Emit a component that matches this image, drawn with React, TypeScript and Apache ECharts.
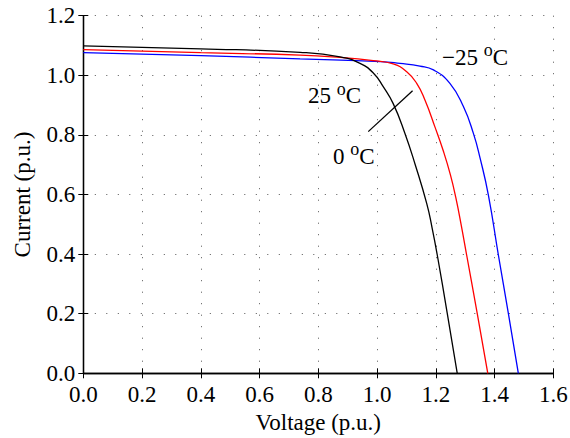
import React, { useEffect, useRef } from "react";
import * as echarts from "echarts";

const V_25C = [0, 0.4, 0.738, 0.874, 0.942, 0.988, 1.021, 1.055, 1.095, 1.13, 1.169, 1.187, 1.205, 1.239, 1.273];
const I_25C = [1.099, 1.089, 1.077, 1.062, 1.04, 1.007, 0.962, 0.905, 0.805, 0.7, 0.57, 0.49, 0.397, 0.201, 0];

const V_0C = [0, 0.4, 0.738, 0.874, 0.987, 1.055, 1.101, 1.135, 1.163, 1.197, 1.226, 1.25, 1.268, 1.287, 1.305, 1.341, 1.377];
const I_0C = [1.086, 1.076, 1.068, 1.06, 1.049, 1.038, 1.012, 0.973, 0.917, 0.827, 0.745, 0.665, 0.59, 0.495, 0.397, 0.201, 0];

const V_M25C = [0, 0.4, 0.738, 1.012, 1.078, 1.146, 1.192, 1.248, 1.294, 1.328, 1.351, 1.379, 1.413, 1.447, 1.481];
const I_M25C = [1.076, 1.066, 1.055, 1.046, 1.04, 1.031, 1.018, 0.973, 0.895, 0.805, 0.721, 0.598, 0.397, 0.201, 0];

const X_TICKS = { min: 0, max: 1.6, interval: 0.2 };
const Y_TICKS = { min: 0, max: 1.2, interval: 0.2 };

const FONT = "Liberation Serif";

const zip = (xs: number[], ys: number[]) => xs.map((x, i) => [x, ys[i]]);

export default function App() {
  const ref = useRef<HTMLDivElement>(null);
  useEffect(() => {
    if (!ref.current) return;
    const chart = echarts.init(ref.current, null, { renderer: "svg" });
    const dotted = { type: [1, 10.5] as any, color: "#555", width: 1 };
    const axisCommon = {
      axisLine: { show: true, lineStyle: { color: "#000", width: 1.3 } },
      axisTick: { show: true, inside: true, length: 5, lineStyle: { color: "#000", width: 1 } },
    };
    const labelStyle = { color: "#000", fontFamily: FONT, fontSize: 23 };
    chart.setOption({
      animation: false,
      backgroundColor: "#fff",
      grid: {
        left: 83.3,
        top: 15.7,
        right: 16.7,
        bottom: 64.7,
        containLabel: false,
        outerBoundsMode: "none",
      },
      xAxis: [
        {
          type: "value",
          ...X_TICKS,
          position: "bottom",
          ...axisCommon,
          axisLabel: { ...labelStyle, margin: 10, formatter: (v: number) => v.toFixed(1) },
          splitLine: { show: true, lineStyle: dotted },
          name: "Voltage (p.u.)",
          nameLocation: "middle",
          nameGap: 32,
          nameTextStyle: { ...labelStyle },
        },
        {
          type: "value",
          ...X_TICKS,
          position: "top",
          ...axisCommon,
          axisLabel: { show: false },
          splitLine: { show: false },
        },
      ],
      yAxis: [
        {
          type: "value",
          ...Y_TICKS,
          position: "left",
          ...axisCommon,
          axisLabel: { ...labelStyle, margin: 8, formatter: (v: number) => v.toFixed(1) },
          splitLine: { show: true, lineStyle: dotted },
          name: "Current (p.u.)",
          nameLocation: "middle",
          nameGap: 49,
          nameTextStyle: { ...labelStyle },
        },
        {
          type: "value",
          ...Y_TICKS,
          position: "right",
          ...axisCommon,
          axisLabel: { show: false },
          splitLine: { show: false },
        },
      ],
      series: [
        {
          name: "-25 C",
          type: "line",
          data: zip(V_M25C, I_M25C),
          showSymbol: false,
          smooth: 0.5,
          lineStyle: { color: "#0000ff", width: 1.3 },
        },
        {
          name: "0 C",
          type: "line",
          data: zip(V_0C, I_0C),
          showSymbol: false,
          smooth: 0.5,
          lineStyle: { color: "#ff0000", width: 1.3 },
        },
        {
          name: "25 C",
          type: "line",
          data: zip(V_25C, I_25C),
          showSymbol: false,
          smooth: 0.5,
          lineStyle: { color: "#000000", width: 1.3 },
        },
      ],
    });

    const px = (p: number[]) => chart.convertToPixel({ gridIndex: 0 }, p) as number[];
    const rich = {
      n: { fontFamily: FONT, fontSize: 23, lineHeight: 32, color: "#000" },
      s: { fontFamily: FONT, fontSize: 18, lineHeight: 16, verticalAlign: "top", color: "#000" },
    };
    const label = (p: number[], t: string) => {
      const [x, y] = px(p);
      return {
        type: "text",
        x,
        y,
        style: {
          text: `{n|${t} }{s|o}{n|C}`,
          rich,
          align: "left",
          verticalAlign: "middle",
        },
      };
    };
    const a = px([0.97, 0.811]);
    const b = px([1.121, 0.948]);
    chart.setOption({
      graphic: [
        label([1.221, 1.061], "\u221225"),
        label([0.765, 0.931], "25"),
        label([0.85, 0.729], "0"),
        {
          type: "line",
          shape: { x1: a[0], y1: a[1], x2: b[0], y2: b[1] },
          style: { stroke: "#000", lineWidth: 1.3 },
        },
      ],
    });
    return () => chart.dispose();
  }, []);
  return <div ref={ref} style={{ width: 570, height: 438, position: "absolute", left: 0, top: 0 }} />;
}
